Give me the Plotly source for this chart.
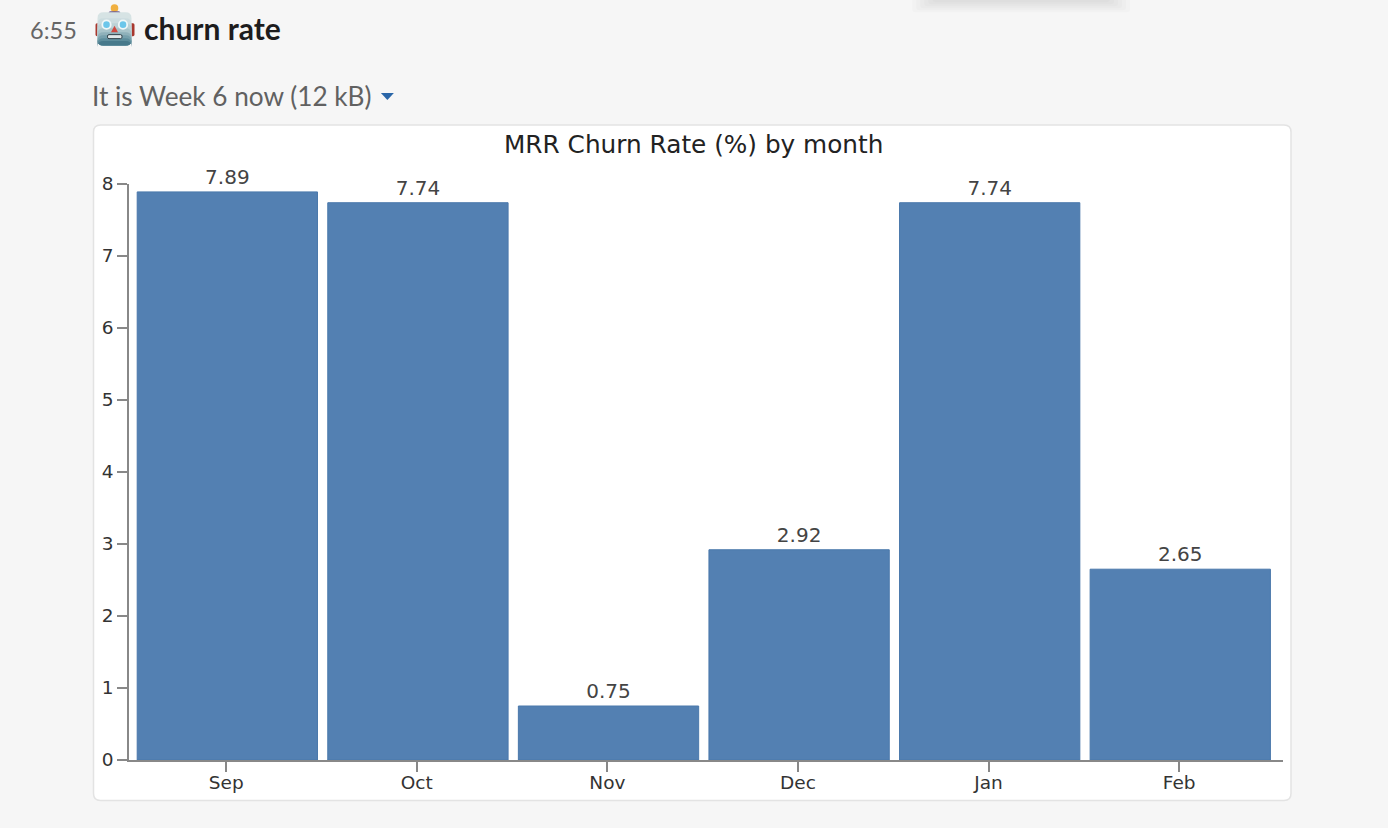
import plotly.graph_objects as go

months = ["Sep", "Oct", "Nov", "Dec", "Jan", "Feb"]
churn = [7.89, 7.74, 0.75, 2.92, 7.74, 2.65]
labels = ["7.89", "7.74", "0.75", "2.92", "7.74", "2.65"]
y_ticks = [0, 1, 2, 3, 4, 5, 6, 7, 8]

W, H = 1388, 828
L, R, T, B = 128.5, 1283, 184, 760.5
FONT = "DejaVu Sans"
def px(x): return (x - L) / (R - L)
def py(y): return (B - y) / (B - T)

fig = go.Figure(go.Bar(
    x=months, y=churn, text=labels, textposition="outside", cliponaxis=False,
    width=0.946, offset=-0.467,
    marker=dict(color="#5380b2", line=dict(color="#4a78ab", width=1)),
    textfont=dict(family=FONT, size=20, color="#444444"),
))

def rrect(x0, y0, x1, y1, r):
    return (f"M{px(x0+r)},{py(y0)} L{px(x1-r)},{py(y0)} Q{px(x1)},{py(y0)} {px(x1)},{py(y0+r)} "
            f"L{px(x1)},{py(y1-r)} Q{px(x1)},{py(y1)} {px(x1-r)},{py(y1)} "
            f"L{px(x0+r)},{py(y1)} Q{px(x0)},{py(y1)} {px(x0)},{py(y1-r)} "
            f"L{px(x0)},{py(y0+r)} Q{px(x0)},{py(y0)} {px(x0+r)},{py(y0)} Z")

def pshape(path, fill, line="rgba(0,0,0,0)", width=0, layer="below"):
    return dict(type="path", xref="paper", yref="paper", path=path, fillcolor=fill,
                line=dict(color=line, width=width), layer=layer)

def poly(points):
    return "M" + " L".join(f"{px(x)},{py(y)}" for x, y in points) + " Z"

def circ(cx, cy, r, fill, line="rgba(0,0,0,0)", width=0):
    return dict(type="circle", xref="paper", yref="paper", x0=px(cx-r), x1=px(cx+r),
                y0=py(cy+r), y1=py(cy-r), fillcolor=fill, line=dict(color=line, width=width), layer="above")

shapes = [pshape(rrect(93, 125, 1291, 801, 7), "#ffffff", "#e3e3e3", 1.5)]
# popover shadow at the top edge
for inset, bottom in [(0, 12), (4, 10), (8, 8), (12, 6), (16, 4), (20, 2)]:
    shapes.append(pshape(rrect(912 + inset, -8, 1130 - inset, bottom, 3), "rgba(0,0,0,0.016)"))
shapes += [
    # dropdown caret
    pshape(poly([(380.5, 93), (393.5, 93), (387, 100)]), "#2a66a8", layer="above"),
    # robot icon
    pshape(rrect(95, 23, 99, 36, 1.5), "#a8372e", layer="above"),
    pshape(rrect(129, 23, 134, 36, 1.5), "#a8372e", layer="above"),
    circ(114, 8, 3.8, "#f0b040"),
    pshape(rrect(108, 11, 120, 15, 2), "#6a5a8c", layer="above"),
]
for top, colour in [(12, "#d6e3e4"), (18, "#cbdcdf"), (23, "#bcd2d6"), (28, "#a8c4ca"),
                    (32, "#8fb1ba"), (35, "#76a0ac"), (38, "#5d8d9c"), (41, "#47798b")]:
    shapes.append(pshape(rrect(97, top, 131, 45.5, 6), colour, layer="above"))
shapes += [
    circ(106, 24.5, 4.2, "#6cc6ea", "#f0f7f8", 1.8),
    circ(122.5, 24.5, 4.2, "#6cc6ea", "#f0f7f8", 1.8),
    pshape(poly([(114, 25.5), (110.5, 32), (117.5, 32)]), "#d0483f", layer="above"),
    pshape(rrect(107, 34.5, 121.5, 38.5, 1.5), "#dfe8ea", "#2f3f47", 1, layer="above"),
]

annotations = [
    dict(text="6:55", x=px(52.5), y=py(30), font=dict(family="Lato", size=23.5, color="#666666")),
    dict(text="<b>churn rate</b>", x=px(212), y=py(28), font=dict(family="Lato", size=30, color="#1d1c1d")),
    dict(text="It is Week 6 now (12 kB)", x=px(232), y=py(96), font=dict(family="Lato", size=26.2, color="#616161")),
    dict(text="MRR Churn Rate (%) by month", x=px(693.5), y=py(144), font=dict(family=FONT, size=24.75, color="#222222")),
]
for a in annotations:
    a.update(xref="paper", yref="paper", showarrow=False, xanchor="center", yanchor="middle")

fig.update_layout(
    width=W, height=H, autosize=False, showlegend=False,
    paper_bgcolor="#f6f6f6", plot_bgcolor="rgba(0,0,0,0)",
    margin=dict(l=L, r=W - R, t=T, b=H - B, pad=0),
    shapes=shapes, annotations=annotations,
    xaxis=dict(type="category", range=[-0.51, 5.545], ticks="outside", ticklen=10, tickwidth=1.5,
               tickcolor="#888888", showline=True, linecolor="#888888", linewidth=1.5, showgrid=False,
               tickfont=dict(family=FONT, size=18.5, color="#333333"), zeroline=False, ticklabelstandoff=-5),
    yaxis=dict(range=[0, 8], tickvals=y_ticks, ticks="outside", ticklen=10, tickwidth=1.5,
               tickcolor="#888888", showline=True, linecolor="#888888", linewidth=1.5, showgrid=False,
               tickfont=dict(family=FONT, size=18.5, color="#333333"), zeroline=False),
)

fig.write_html("out.html", config=dict(displayModeBar=False),
               post_script="document.body.style.margin='0';document.body.style.background='#f6f6f6';document.body.style.overflow='hidden';")
